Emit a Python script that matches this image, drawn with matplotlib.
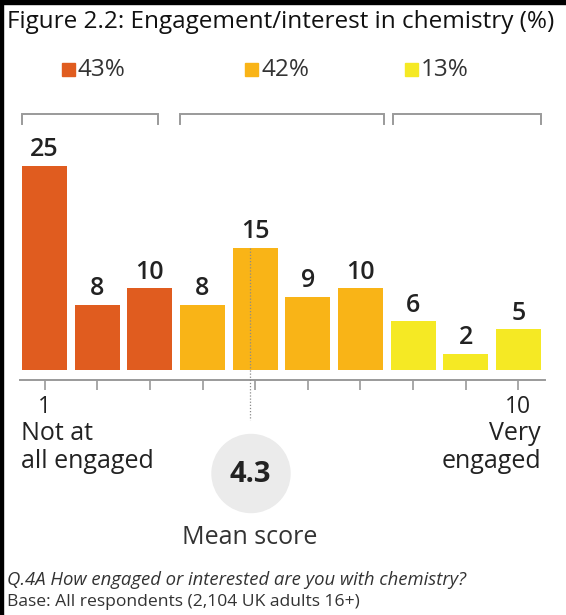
import matplotlib
matplotlib.use("Agg")
import matplotlib.pyplot as plt
from matplotlib.patches import Rectangle, Ellipse

# ---- data ----
scores = [1, 2, 3, 4, 5, 6, 7, 8, 9, 10]
values = [25, 8, 10, 8, 15, 9, 10, 6, 2, 5]
groups = [0, 0, 0, 1, 1, 1, 1, 2, 2, 2]
group_labels = ["43%", "42%", "13%"]
group_colors = ["#E05C1F", "#F9B417", "#F5E924"]
mean_score = "4.3"
title = "Figure 2.2: Engagement/interest in chemistry (%)"
foot1 = "Q.4A How engaged or interested are you with chemistry?"
foot2 = "Base: All respondents (2,104 UK adults 16+)"

W, H = 566, 615
plt.rcParams['font.family'] = ['Open Sans', 'DejaVu Sans']
fig = plt.figure(figsize=(W / 100, H / 100), dpi=100)
fig.patch.set_facecolor("white")

def fx(x):
    return x / W
def fy(y):
    return 1 - y / H

# axes: pixel region x 18.2..544.8, baseline y=370, top y=125 (30 units)
ax_left, ax_right = 18.2, 544.8
base_y, top_y = 370, 125
ax = fig.add_axes([fx(ax_left), fy(base_y), (ax_right - ax_left) / W, (base_y - top_y) / H])
ax.set_xlim(-0.5, 9.5)
ax.set_ylim(0, 30)
ax.patch.set_alpha(0)

xs = list(range(len(values)))
cols = [group_colors[g] for g in groups]
ax.bar(xs, values, width=0.855, color=cols, zorder=2)
for x, v in zip(xs, values):
    ax.annotate(str(v), (x, v), xytext=(0, 2.5), textcoords="offset points",
                ha="center", va="bottom", fontsize=18, fontweight="semibold", color="#222222")

for s in ["top", "right", "left"]:
    ax.spines[s].set_visible(False)
ax.spines["bottom"].set_position(("outward", 7.5))
ax.spines["bottom"].set_color("#9a9a9a")
ax.spines["bottom"].set_linewidth(1.4)
ax.spines["bottom"].set_bounds(-0.47, 9.5)
ax.set_yticks([])
ax.set_xticks(xs)
ax.set_xticklabels([str(s) if s in (1, 10) else "" for s in scores])
ax.tick_params(axis="x", direction="out", length=7.5, width=1.2, color="#9a9a9a",
               labelsize=16.5, labelcolor="#222222", pad=3)

# mean dotted line (through bar 5)
mean_x = 3.9
ax.plot([mean_x, mean_x], [15, -6.1], ls=(0, (1, 1.5)), color="#8a8a8a", lw=0.9,
        clip_on=False, zorder=3)

# brackets
brackets = [(-0.43, 2.16), (2.58, 6.44), (6.61, 9.42)]
for (a, b) in brackets:
    ax.plot([a, a, b, b], [30.1, 31.3, 31.3, 30.1], color="#9a9a9a", lw=1.4,
            clip_on=False, solid_joinstyle="miter")

# legend
leg_sq_x = [62, 245, 405]
for gx, lab, c in zip(leg_sq_x, group_labels, group_colors):
    fig.patches.append(Rectangle((fx(gx), fy(76)), 13 / W, 13 / H, transform=fig.transFigure,
                                 color=c))
    fig.text(fx(gx + 16), fy(69.5), lab, fontsize=17.5, color="#333333", va="center", ha="left")

# title
fig.text(fx(7), fy(22), title, fontsize=17.5, color="#111111", va="center", ha="left")

# end labels
fig.text(fx(21), fy(433), "Not at", fontsize=18, color="#222222", va="center", ha="left")
fig.text(fx(21), fy(461), "all engaged", fontsize=18, color="#222222", va="center", ha="left")
fig.text(fx(541), fy(433), "Very", fontsize=18, color="#222222", va="center", ha="right")
fig.text(fx(541), fy(461), "engaged", fontsize=18, color="#222222", va="center", ha="right")

# mean circle
fig.patches.append(Ellipse((fx(251), fy(473.5)), 78 / W, 78 / H, transform=fig.transFigure,
                           color="#EBEBEB"))
fig.text(fx(250), fy(475), mean_score, fontsize=21, fontweight="bold", color="#222222",
         va="center", ha="center")
fig.text(fx(250), fy(538), "Mean score", fontsize=18, color="#333333", va="center", ha="center")

# footnotes
fig.text(fx(7), fy(580), foot1, fontsize=13.3, style="italic", color="#333333", va="center", ha="left")
fig.text(fx(7), fy(602), foot2, fontsize=12.6, color="#333333", va="center", ha="left")

# black border top/left
fig.patches.append(Rectangle((0, fy(4)), 1, 4 / H, transform=fig.transFigure, color="black"))
fig.patches.append(Rectangle((0, 0), 3 / W, 1, transform=fig.transFigure, color="black"))

fig.savefig("out.png", dpi=100)
